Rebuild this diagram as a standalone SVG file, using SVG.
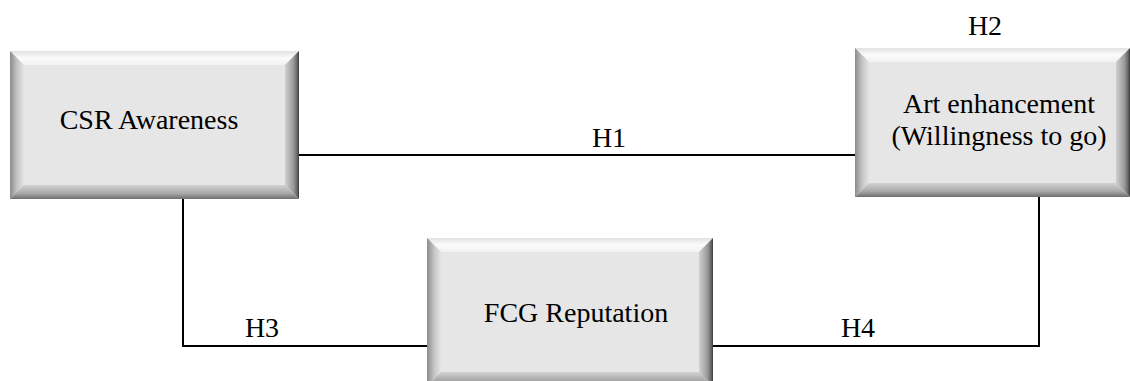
<svg xmlns="http://www.w3.org/2000/svg" width="1130" height="381" viewBox="0 0 1130 381">
<defs>
<linearGradient id="gTop" x1="0" y1="0" x2="0" y2="1"><stop offset="0" stop-color="#e2e2e2"/><stop offset="0.5" stop-color="#fbfbfb"/><stop offset="1" stop-color="#f2f2f2"/></linearGradient>
<linearGradient id="gLeft" x1="0" y1="0" x2="1" y2="0"><stop offset="0" stop-color="#8c8c8c"/><stop offset="0.5" stop-color="#c4c4c4"/><stop offset="1" stop-color="#e4e4e4"/></linearGradient>
<linearGradient id="gRight" x1="0" y1="0" x2="1" y2="0"><stop offset="0" stop-color="#d0d0d0"/><stop offset="0.6" stop-color="#9a9a9a"/><stop offset="0.85" stop-color="#6a6a6a"/><stop offset="1" stop-color="#3a3a3a"/></linearGradient>
<linearGradient id="gBottom" x1="0" y1="0" x2="0" y2="1"><stop offset="0" stop-color="#d2d2d2"/><stop offset="0.6" stop-color="#a8a8a8"/><stop offset="1" stop-color="#6e6e6e"/></linearGradient>
</defs>
<style>
.face{fill:#e6e6e6}
.t{fill:url(#gTop)}
.l{fill:url(#gLeft)}
.r{fill:url(#gRight)}
.b{fill:url(#gBottom)}
.lbl{font-size:28px;fill:#000;text-anchor:middle}
.conn{fill:none;stroke:#000;stroke-width:2}
</style>
<g id="connectors">
<line class="conn" x1="299" y1="155" x2="855" y2="155"/>
<polyline class="conn" points="183,199 183,346 427,346"/>
<polyline class="conn" points="1039,197 1039,346 713,346"/>
<text class="lbl" font-family="Liberation Serif, DejaVu Serif, serif" x="609" y="147">H1</text>
<text class="lbl" font-family="Liberation Serif, DejaVu Serif, serif" x="985" y="35">H2</text>
<text class="lbl" font-family="Liberation Serif, DejaVu Serif, serif" x="262" y="337">H3</text>
<text class="lbl" font-family="Liberation Serif, DejaVu Serif, serif" x="858" y="337">H4</text>
</g>
<g id="csr">
<rect class="face" x="10" y="51" width="289" height="148"/>
<polygon class="t" points="10,51 299,51 285,65 24,65"/>
<polygon class="l" points="10,51 24,65 24,185 10,199"/>
<polygon class="r" points="299,51 299,199 285,185 285,65"/>
<polygon class="b" points="10,199 24,185 285,185 299,199"/>
<text class="lbl" font-family="Liberation Serif, DejaVu Serif, serif" x="149" y="129">CSR Awareness</text>
</g>
<g id="art">
<rect class="face" x="855" y="48" width="275" height="149"/>
<polygon class="t" points="855,48 1130,48 1116,62 869,62"/>
<polygon class="l" points="855,48 869,62 869,183 855,197"/>
<polygon class="r" points="1130,48 1130,197 1116,183 1116,62"/>
<polygon class="b" points="855,197 869,183 1116,183 1130,197"/>
<text class="lbl" font-family="Liberation Serif, DejaVu Serif, serif" x="999" y="113">Art enhancement</text>
<text class="lbl" font-family="Liberation Serif, DejaVu Serif, serif" x="999" y="145">(Willingness to go)</text>
</g>
<g id="fcg">
<rect class="face" x="427" y="238" width="286" height="148"/>
<polygon class="t" points="427,238 713,238 699,252 441,252"/>
<polygon class="l" points="427,238 441,252 441,372 427,386"/>
<polygon class="r" points="713,238 713,386 699,372 699,252"/>
<polygon class="b" points="427,386 441,372 699,372 713,386"/>
<text class="lbl" font-family="Liberation Serif, DejaVu Serif, serif" x="576" y="322">FCG Reputation</text>
</g>
</svg>
